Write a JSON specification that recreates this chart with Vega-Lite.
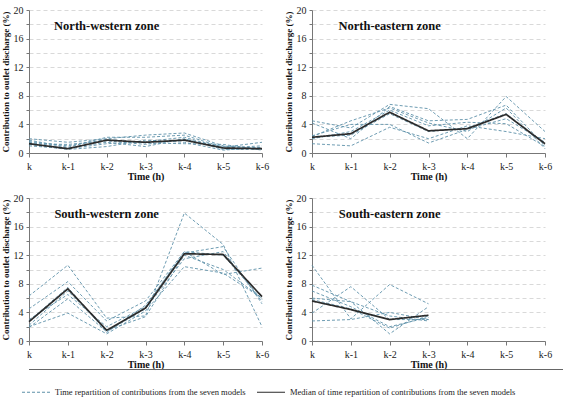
{
  "$schema": "https://vega.github.io/schema/vega-lite/v6.json",
  "padding": {"left": 0, "top": 5, "right": 0, "bottom": 0},
  "background": "white",
  "datasets": {
    "d": [
      {"zone": "North-western zone", "model": "m1", "time": "k", "value": 2.0}, {"zone": "North-western zone", "model": "m1", "time": "k-1", "value": 1.5}, {"zone": "North-western zone", "model": "m1", "time": "k-2", "value": 2.0}, {"zone": "North-western zone", "model": "m1", "time": "k-3", "value": 2.5}, {"zone": "North-western zone", "model": "m1", "time": "k-4", "value": 2.8}, {"zone": "North-western zone", "model": "m1", "time": "k-5", "value": 1.0}, {"zone": "North-western zone", "model": "m1", "time": "k-6", "value": 0.6},
      {"zone": "North-western zone", "model": "m2", "time": "k", "value": 1.8}, {"zone": "North-western zone", "model": "m2", "time": "k-1", "value": 0.8}, {"zone": "North-western zone", "model": "m2", "time": "k-2", "value": 2.2}, {"zone": "North-western zone", "model": "m2", "time": "k-3", "value": 2.2}, {"zone": "North-western zone", "model": "m2", "time": "k-4", "value": 2.5}, {"zone": "North-western zone", "model": "m2", "time": "k-5", "value": 0.8}, {"zone": "North-western zone", "model": "m2", "time": "k-6", "value": 1.5},
      {"zone": "North-western zone", "model": "m3", "time": "k", "value": 1.5}, {"zone": "North-western zone", "model": "m3", "time": "k-1", "value": 0.7}, {"zone": "North-western zone", "model": "m3", "time": "k-2", "value": 1.5}, {"zone": "North-western zone", "model": "m3", "time": "k-3", "value": 0.9}, {"zone": "North-western zone", "model": "m3", "time": "k-4", "value": 2.0}, {"zone": "North-western zone", "model": "m3", "time": "k-5", "value": 0.5}, {"zone": "North-western zone", "model": "m3", "time": "k-6", "value": 0.5},
      {"zone": "North-western zone", "model": "m4", "time": "k", "value": 1.2}, {"zone": "North-western zone", "model": "m4", "time": "k-1", "value": 0.5}, {"zone": "North-western zone", "model": "m4", "time": "k-2", "value": 0.9}, {"zone": "North-western zone", "model": "m4", "time": "k-3", "value": 1.8}, {"zone": "North-western zone", "model": "m4", "time": "k-4", "value": 1.5}, {"zone": "North-western zone", "model": "m4", "time": "k-5", "value": 0.4}, {"zone": "North-western zone", "model": "m4", "time": "k-6", "value": 0.8},
      {"zone": "North-western zone", "model": "m5", "time": "k", "value": 1.6}, {"zone": "North-western zone", "model": "m5", "time": "k-1", "value": 1.0}, {"zone": "North-western zone", "model": "m5", "time": "k-2", "value": 1.9}, {"zone": "North-western zone", "model": "m5", "time": "k-3", "value": 1.4}, {"zone": "North-western zone", "model": "m5", "time": "k-4", "value": 1.3}, {"zone": "North-western zone", "model": "m5", "time": "k-5", "value": 1.2}, {"zone": "North-western zone", "model": "m5", "time": "k-6", "value": 0.4},
      {"zone": "North-western zone", "model": "m6", "time": "k", "value": 1.0}, {"zone": "North-western zone", "model": "m6", "time": "k-1", "value": 0.6}, {"zone": "North-western zone", "model": "m6", "time": "k-2", "value": 1.3}, {"zone": "North-western zone", "model": "m6", "time": "k-3", "value": 1.6}, {"zone": "North-western zone", "model": "m6", "time": "k-4", "value": 2.2}, {"zone": "North-western zone", "model": "m6", "time": "k-5", "value": 0.7}, {"zone": "North-western zone", "model": "m6", "time": "k-6", "value": 1.0},
      {"zone": "North-western zone", "model": "m7", "time": "k", "value": 1.3}, {"zone": "North-western zone", "model": "m7", "time": "k-1", "value": 1.2}, {"zone": "North-western zone", "model": "m7", "time": "k-2", "value": 1.7}, {"zone": "North-western zone", "model": "m7", "time": "k-3", "value": 1.2}, {"zone": "North-western zone", "model": "m7", "time": "k-4", "value": 1.9}, {"zone": "North-western zone", "model": "m7", "time": "k-5", "value": 0.9}, {"zone": "North-western zone", "model": "m7", "time": "k-6", "value": 0.7},
      {"zone": "North-western zone", "model": "median", "time": "k", "value": 1.3}, {"zone": "North-western zone", "model": "median", "time": "k-1", "value": 0.6}, {"zone": "North-western zone", "model": "median", "time": "k-2", "value": 1.8}, {"zone": "North-western zone", "model": "median", "time": "k-3", "value": 1.5}, {"zone": "North-western zone", "model": "median", "time": "k-4", "value": 1.8}, {"zone": "North-western zone", "model": "median", "time": "k-5", "value": 0.7}, {"zone": "North-western zone", "model": "median", "time": "k-6", "value": 0.6},

      {"zone": "North-eastern zone", "model": "m1", "time": "k", "value": 4.5}, {"zone": "North-eastern zone", "model": "m1", "time": "k-1", "value": 3.5}, {"zone": "North-eastern zone", "model": "m1", "time": "k-2", "value": 6.8}, {"zone": "North-eastern zone", "model": "m1", "time": "k-3", "value": 6.2}, {"zone": "North-eastern zone", "model": "m1", "time": "k-4", "value": 2.0}, {"zone": "North-eastern zone", "model": "m1", "time": "k-5", "value": 7.9}, {"zone": "North-eastern zone", "model": "m1", "time": "k-6", "value": 3.0},
      {"zone": "North-eastern zone", "model": "m2", "time": "k", "value": 4.2}, {"zone": "North-eastern zone", "model": "m2", "time": "k-1", "value": 2.0}, {"zone": "North-eastern zone", "model": "m2", "time": "k-2", "value": 6.5}, {"zone": "North-eastern zone", "model": "m2", "time": "k-3", "value": 4.5}, {"zone": "North-eastern zone", "model": "m2", "time": "k-4", "value": 4.7}, {"zone": "North-eastern zone", "model": "m2", "time": "k-5", "value": 6.7}, {"zone": "North-eastern zone", "model": "m2", "time": "k-6", "value": 1.0},
      {"zone": "North-eastern zone", "model": "m3", "time": "k", "value": 2.3}, {"zone": "North-eastern zone", "model": "m3", "time": "k-1", "value": 4.5}, {"zone": "North-eastern zone", "model": "m3", "time": "k-2", "value": 6.3}, {"zone": "North-eastern zone", "model": "m3", "time": "k-3", "value": 4.2}, {"zone": "North-eastern zone", "model": "m3", "time": "k-4", "value": 3.0}, {"zone": "North-eastern zone", "model": "m3", "time": "k-5", "value": 6.3}, {"zone": "North-eastern zone", "model": "m3", "time": "k-6", "value": 0.6},
      {"zone": "North-eastern zone", "model": "m4", "time": "k", "value": 2.4}, {"zone": "North-eastern zone", "model": "m4", "time": "k-1", "value": 4.0}, {"zone": "North-eastern zone", "model": "m4", "time": "k-2", "value": 4.0}, {"zone": "North-eastern zone", "model": "m4", "time": "k-3", "value": 1.4}, {"zone": "North-eastern zone", "model": "m4", "time": "k-4", "value": 3.3}, {"zone": "North-eastern zone", "model": "m4", "time": "k-5", "value": 4.8}, {"zone": "North-eastern zone", "model": "m4", "time": "k-6", "value": 1.5},
      {"zone": "North-eastern zone", "model": "m5", "time": "k", "value": 1.3}, {"zone": "North-eastern zone", "model": "m5", "time": "k-1", "value": 1.0}, {"zone": "North-eastern zone", "model": "m5", "time": "k-2", "value": 3.6}, {"zone": "North-eastern zone", "model": "m5", "time": "k-3", "value": 2.0}, {"zone": "North-eastern zone", "model": "m5", "time": "k-4", "value": 3.8}, {"zone": "North-eastern zone", "model": "m5", "time": "k-5", "value": 3.0}, {"zone": "North-eastern zone", "model": "m5", "time": "k-6", "value": 2.0},
      {"zone": "North-eastern zone", "model": "m6", "time": "k", "value": 2.0}, {"zone": "North-eastern zone", "model": "m6", "time": "k-1", "value": 3.0}, {"zone": "North-eastern zone", "model": "m6", "time": "k-2", "value": 6.0}, {"zone": "North-eastern zone", "model": "m6", "time": "k-3", "value": 3.8}, {"zone": "North-eastern zone", "model": "m6", "time": "k-4", "value": 4.3}, {"zone": "North-eastern zone", "model": "m6", "time": "k-5", "value": 4.1}, {"zone": "North-eastern zone", "model": "m6", "time": "k-6", "value": 0.9},
      {"zone": "North-eastern zone", "model": "m7", "time": "k", "value": 2.2}, {"zone": "North-eastern zone", "model": "m7", "time": "k-1", "value": 2.5}, {"zone": "North-eastern zone", "model": "m7", "time": "k-2", "value": 5.5}, {"zone": "North-eastern zone", "model": "m7", "time": "k-3", "value": 3.0}, {"zone": "North-eastern zone", "model": "m7", "time": "k-4", "value": 3.5}, {"zone": "North-eastern zone", "model": "m7", "time": "k-5", "value": 5.5}, {"zone": "North-eastern zone", "model": "m7", "time": "k-6", "value": 1.2},
      {"zone": "North-eastern zone", "model": "median", "time": "k", "value": 2.2}, {"zone": "North-eastern zone", "model": "median", "time": "k-1", "value": 2.7}, {"zone": "North-eastern zone", "model": "median", "time": "k-2", "value": 5.7}, {"zone": "North-eastern zone", "model": "median", "time": "k-3", "value": 3.1}, {"zone": "North-eastern zone", "model": "median", "time": "k-4", "value": 3.4}, {"zone": "North-eastern zone", "model": "median", "time": "k-5", "value": 5.4}, {"zone": "North-eastern zone", "model": "median", "time": "k-6", "value": 1.3},

      {"zone": "South-western zone", "model": "m1", "time": "k", "value": 6.3}, {"zone": "South-western zone", "model": "m1", "time": "k-1", "value": 10.6}, {"zone": "South-western zone", "model": "m1", "time": "k-2", "value": 3.2}, {"zone": "South-western zone", "model": "m1", "time": "k-3", "value": 3.5}, {"zone": "South-western zone", "model": "m1", "time": "k-4", "value": 17.9}, {"zone": "South-western zone", "model": "m1", "time": "k-5", "value": 13.5}, {"zone": "South-western zone", "model": "m1", "time": "k-6", "value": 2.0},
      {"zone": "South-western zone", "model": "m2", "time": "k", "value": 4.5}, {"zone": "South-western zone", "model": "m2", "time": "k-1", "value": 8.3}, {"zone": "South-western zone", "model": "m2", "time": "k-2", "value": 2.8}, {"zone": "South-western zone", "model": "m2", "time": "k-3", "value": 5.6}, {"zone": "South-western zone", "model": "m2", "time": "k-4", "value": 12.5}, {"zone": "South-western zone", "model": "m2", "time": "k-5", "value": 9.3}, {"zone": "South-western zone", "model": "m2", "time": "k-6", "value": 10.2},
      {"zone": "South-western zone", "model": "m3", "time": "k", "value": 2.8}, {"zone": "South-western zone", "model": "m3", "time": "k-1", "value": 7.5}, {"zone": "South-western zone", "model": "m3", "time": "k-2", "value": 1.2}, {"zone": "South-western zone", "model": "m3", "time": "k-3", "value": 5.0}, {"zone": "South-western zone", "model": "m3", "time": "k-4", "value": 12.3}, {"zone": "South-western zone", "model": "m3", "time": "k-5", "value": 13.2}, {"zone": "South-western zone", "model": "m3", "time": "k-6", "value": 5.2},
      {"zone": "South-western zone", "model": "m4", "time": "k", "value": 2.0}, {"zone": "South-western zone", "model": "m4", "time": "k-1", "value": 3.9}, {"zone": "South-western zone", "model": "m4", "time": "k-2", "value": 1.0}, {"zone": "South-western zone", "model": "m4", "time": "k-3", "value": 4.2}, {"zone": "South-western zone", "model": "m4", "time": "k-4", "value": 10.4}, {"zone": "South-western zone", "model": "m4", "time": "k-5", "value": 9.5}, {"zone": "South-western zone", "model": "m4", "time": "k-6", "value": 6.0},
      {"zone": "South-western zone", "model": "m5", "time": "k", "value": 1.9}, {"zone": "South-western zone", "model": "m5", "time": "k-1", "value": 5.9}, {"zone": "South-western zone", "model": "m5", "time": "k-2", "value": 1.3}, {"zone": "South-western zone", "model": "m5", "time": "k-3", "value": 4.5}, {"zone": "South-western zone", "model": "m5", "time": "k-4", "value": 11.5}, {"zone": "South-western zone", "model": "m5", "time": "k-5", "value": 12.5}, {"zone": "South-western zone", "model": "m5", "time": "k-6", "value": 5.5},
      {"zone": "South-western zone", "model": "m6", "time": "k", "value": 2.2}, {"zone": "South-western zone", "model": "m6", "time": "k-1", "value": 7.0}, {"zone": "South-western zone", "model": "m6", "time": "k-2", "value": 1.5}, {"zone": "South-western zone", "model": "m6", "time": "k-3", "value": 3.4}, {"zone": "South-western zone", "model": "m6", "time": "k-4", "value": 12.0}, {"zone": "South-western zone", "model": "m6", "time": "k-5", "value": 10.0}, {"zone": "South-western zone", "model": "m6", "time": "k-6", "value": 6.0},
      {"zone": "South-western zone", "model": "m7", "time": "k", "value": 3.0}, {"zone": "South-western zone", "model": "m7", "time": "k-1", "value": 6.5}, {"zone": "South-western zone", "model": "m7", "time": "k-2", "value": 2.0}, {"zone": "South-western zone", "model": "m7", "time": "k-3", "value": 4.8}, {"zone": "South-western zone", "model": "m7", "time": "k-4", "value": 12.5}, {"zone": "South-western zone", "model": "m7", "time": "k-5", "value": 12.0}, {"zone": "South-western zone", "model": "m7", "time": "k-6", "value": 5.8},
      {"zone": "South-western zone", "model": "median", "time": "k", "value": 2.7}, {"zone": "South-western zone", "model": "median", "time": "k-1", "value": 7.3}, {"zone": "South-western zone", "model": "median", "time": "k-2", "value": 1.5}, {"zone": "South-western zone", "model": "median", "time": "k-3", "value": 4.6}, {"zone": "South-western zone", "model": "median", "time": "k-4", "value": 12.2}, {"zone": "South-western zone", "model": "median", "time": "k-5", "value": 12.1}, {"zone": "South-western zone", "model": "median", "time": "k-6", "value": 6.2},

      {"zone": "South-eastern zone", "model": "m1", "time": "k", "value": 10.6}, {"zone": "South-eastern zone", "model": "m1", "time": "k-1", "value": 3.1}, {"zone": "South-eastern zone", "model": "m1", "time": "k-2", "value": 7.9}, {"zone": "South-eastern zone", "model": "m1", "time": "k-3", "value": 5.2},
      {"zone": "South-eastern zone", "model": "m2", "time": "k", "value": 3.9}, {"zone": "South-eastern zone", "model": "m2", "time": "k-1", "value": 7.6}, {"zone": "South-eastern zone", "model": "m2", "time": "k-2", "value": 3.0}, {"zone": "South-eastern zone", "model": "m2", "time": "k-3", "value": 3.0},
      {"zone": "South-eastern zone", "model": "m3", "time": "k", "value": 7.8}, {"zone": "South-eastern zone", "model": "m3", "time": "k-1", "value": 5.5}, {"zone": "South-eastern zone", "model": "m3", "time": "k-2", "value": 1.0}, {"zone": "South-eastern zone", "model": "m3", "time": "k-3", "value": 4.8},
      {"zone": "South-eastern zone", "model": "m4", "time": "k", "value": 7.0}, {"zone": "South-eastern zone", "model": "m4", "time": "k-1", "value": 4.8}, {"zone": "South-eastern zone", "model": "m4", "time": "k-2", "value": 2.0}, {"zone": "South-eastern zone", "model": "m4", "time": "k-3", "value": 3.3},
      {"zone": "South-eastern zone", "model": "m5", "time": "k", "value": 6.0}, {"zone": "South-eastern zone", "model": "m5", "time": "k-1", "value": 5.5}, {"zone": "South-eastern zone", "model": "m5", "time": "k-2", "value": 3.5}, {"zone": "South-eastern zone", "model": "m5", "time": "k-3", "value": 2.8},
      {"zone": "South-eastern zone", "model": "m6", "time": "k", "value": 2.8}, {"zone": "South-eastern zone", "model": "m6", "time": "k-1", "value": 3.0}, {"zone": "South-eastern zone", "model": "m6", "time": "k-2", "value": 4.0}, {"zone": "South-eastern zone", "model": "m6", "time": "k-3", "value": 3.0},
      {"zone": "South-eastern zone", "model": "m7", "time": "k", "value": 5.8}, {"zone": "South-eastern zone", "model": "m7", "time": "k-1", "value": 4.5}, {"zone": "South-eastern zone", "model": "m7", "time": "k-2", "value": 1.8}, {"zone": "South-eastern zone", "model": "m7", "time": "k-3", "value": 3.5},
      {"zone": "South-eastern zone", "model": "median", "time": "k", "value": 5.6}, {"zone": "South-eastern zone", "model": "median", "time": "k-1", "value": 4.4}, {"zone": "South-eastern zone", "model": "median", "time": "k-2", "value": 3.0}, {"zone": "South-eastern zone", "model": "median", "time": "k-3", "value": 3.6}
    ]
  },
  "vconcat": [
    {
      "data": {"name": "d"},
      "transform": [{"calculate": "datum.model === 'median' ? 'Median of time repartition of contributions from the seven models' : 'Time repartition of contributions from the seven models'", "as": "series"}],
      "facet": {"field": "zone", "type": "nominal", "sort": ["North-western zone", "North-eastern zone", "South-western zone", "South-eastern zone"], "header": {"title": null, "labels": false, "labelExpr": "''", "labelFontSize": 0, "labelPadding": 0}},
      "columns": 2,
      "spacing": {"row": 12, "column": 14},
      "resolve": {"axis": {"x": "independent", "y": "independent"}},
      "spec": {
        "width": 233,
        "height": 143,
        "encoding": {
          "x": {"field": "time", "type": "ordinal", "scale": {"domain": ["k", "k-1", "k-2", "k-3", "k-4", "k-5", "k-6"], "padding": 0}, "axis": {"title": "Time (h)"}},
          "y": {"field": "value", "type": "quantitative", "scale": {"domain": [0, 20], "nice": false}, "axis": {"title": "Contribution to outlet discharge (%)", "values": [0, 2, 4, 6, 8, 10, 12, 14, 16, 18, 20], "labelExpr": "datum.value % 4 === 0 ? datum.label : ''"}}
        },
        "layer": [
          {"transform": [{"filter": "datum.model !== 'median'"}], "mark": {"type": "line", "strokeWidth": 0.9}, "encoding": {"detail": {"field": "model"}, "color": {"field": "series", "type": "nominal", "scale": {"domain": ["Time repartition of contributions from the seven models", "Median of time repartition of contributions from the seven models"], "range": ["#5d91a9", "#2b2b2b"]}, "legend": {"title": null}}, "strokeDash": {"field": "series", "type": "nominal", "scale": {"domain": ["Time repartition of contributions from the seven models", "Median of time repartition of contributions from the seven models"], "range": [[3, 2], [1, 0]]}, "legend": {"title": null}}}},
          {"transform": [{"filter": "datum.model === 'median'"}], "mark": {"type": "line", "strokeWidth": 1.7}, "encoding": {"color": {"field": "series", "type": "nominal"}, "strokeDash": {"field": "series", "type": "nominal"}}},
          {"transform": [{"filter": "datum.model === 'median' && datum.time === 'k'"}], "mark": {"type": "text", "font": "Liberation Serif", "fontWeight": "bold", "fontSize": 12.5, "color": "#111"}, "encoding": {"x": {"datum": "k-2", "type": "ordinal"}, "y": {"datum": 17.8, "type": "quantitative"}, "text": {"field": "zone"}}}
        ]
      }
    },
    {
      "width": 563, "height": 1,
      "data": {"values": []},
      "mark": "point",
      "view": {"fill": "#666666", "stroke": null}
    }
  ],
  "spacing": 0,
  "config": {
    "view": {"stroke": null},
    "font": "Liberation Serif",
    "header": {"labels": false, "title": null, "labelExpr": "''", "labelFontSize": 0, "labelPadding": 0},
    "axisX": {
      "labelAngle": 0,
      "labelFont": "Liberation Serif",
      "labelFontSize": 10,
      "labelColor": "#222",
      "titleFont": "Liberation Serif",
      "titleFontSize": 10,
      "titleFontWeight": "bold",
      "titleColor": "#111",
      "titlePadding": 0,
      "domainColor": "#777",
      "tickColor": "#777",
      "tickSize": 4,
      "labelPadding": 4,
      "grid": false
    },
    "axisY": {
      "labelFont": "Liberation Serif",
      "labelFontSize": 10,
      "labelColor": "#222",
      "titleFont": "Liberation Serif",
      "titleFontSize": 9,
      "titleFontWeight": "bold",
      "titleColor": "#111",
      "titlePadding": 3,
      "domainColor": "#777",
      "tickColor": "#777",
      "tickSize": 3,
      "labelPadding": 3,
      "grid": true,
      "gridColor": "#cfcfcf",
      "gridDash": [4, 3],
      "gridWidth": 0.8
    },
    "legend": {
      "orient": "none",
      "legendX": -8,
      "legendY": 367,
      "direction": "horizontal",
      "labelFont": "Liberation Serif",
      "labelFontSize": 8.5,
      "labelColor": "#222",
      "labelLimit": 400,
      "symbolType": "stroke",
      "symbolSize": 784,
      "symbolStrokeWidth": 1.2,
      "columnPadding": 8,
      "padding": 0
    }
  }
}
